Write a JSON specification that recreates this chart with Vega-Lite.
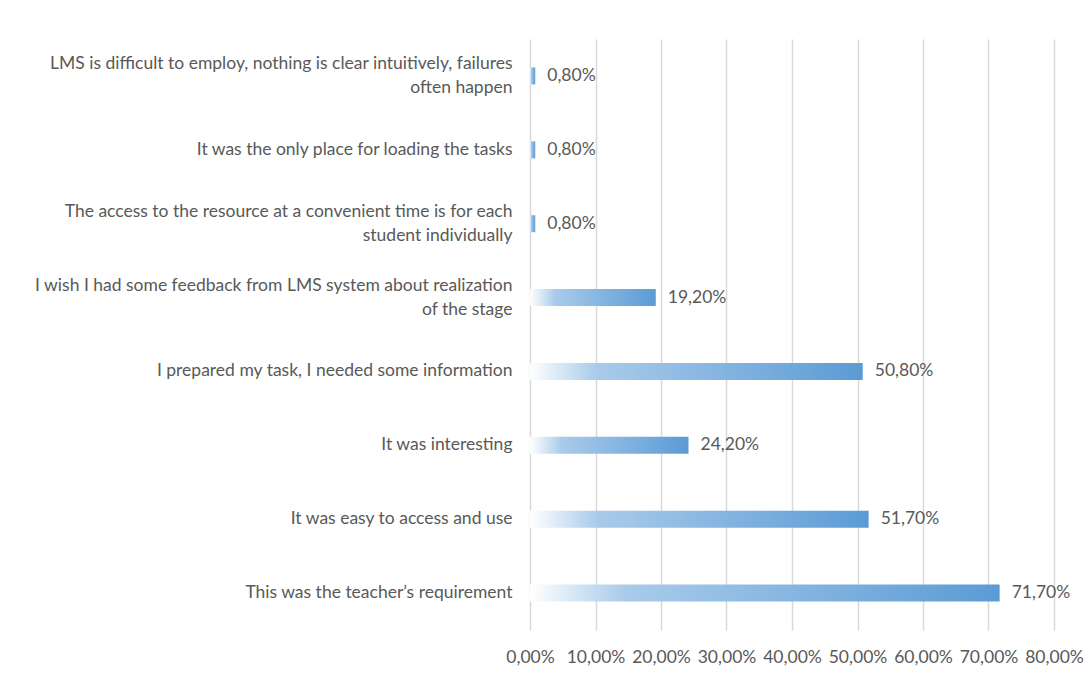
{
  "$schema": "https://vega.github.io/schema/vega-lite/v6.json",
  "width": 524,
  "height": 591,
  "autosize": "none",
  "padding": {"left": 530, "top": 39, "right": 37, "bottom": 43},
  "background": "white",
  "config": {
    "locale": {"number": {"decimal": ",", "thousands": ".", "grouping": [3], "currency": ["", " €"], "percent": "%"}},
    "view": {"stroke": null},
    "font": "Lato"
  },
  "data": {
    "values": [
      {"label": "LMS is difficult to employ, nothing is clear intuitively, failures|often happen", "value": 0.008},
      {"label": "It was the only place for loading the tasks ", "value": 0.008},
      {"label": "The access to the resource at a convenient time is for each|student individually", "value": 0.008},
      {"label": "I wish I had some feedback from LMS system about realization|of the stage", "value": 0.192},
      {"label": "I prepared my task, I needed some information", "value": 0.508},
      {"label": "It was interesting ", "value": 0.242},
      {"label": "It was easy to access and use", "value": 0.517},
      {"label": "This was the teacher’s requirement", "value": 0.717}
    ]
  },
  "encoding": {
    "y": {
      "field": "label",
      "type": "nominal",
      "sort": null,
      "scale": {"paddingInner": 0.77, "paddingOuter": 0.385},
      "axis": {
        "title": null,
        "ticks": false,
        "domain": false,
        "labelPadding": 18,
        "labelLimit": 520,
        "labelFontSize": 17.5,
        "labelColor": "#595959",
        "labelLineHeight": 24,
        "labelOffset": {"condition": {"test": "indexof(datum.value, '|') >= 0", "value": -12}, "value": 0},
        "labelExpr": "split(datum.label, '|')"
      }
    },
    "x": {
      "field": "value",
      "type": "quantitative",
      "scale": {"domain": [0, 0.8], "nice": false},
      "axis": {
        "title": null,
        "format": ".2%",
        "values": [0, 0.1, 0.2, 0.3, 0.4, 0.5, 0.6, 0.7, 0.8],
        "grid": true,
        "gridColor": "#D9D9D9",
        "gridWidth": 1.5,
        "ticks": false,
        "domain": false,
        "labelOverlap": false,
        "labelFlush": false,
        "labelPadding": 18,
        "labelFontSize": 17.5,
        "labelColor": "#595959"
      }
    }
  },
  "layer": [
    {
      "mark": {
        "type": "bar",
        "color": {
          "gradient": "linear",
          "x1": 0, "y1": 0, "x2": 1, "y2": 0,
          "stops": [
            {"offset": 0, "color": "#ffffff"},
            {"offset": 0.2, "color": "#a9cbea"},
            {"offset": 1, "color": "#5b9bd5"}
          ]
        }
      }
    },
    {
      "mark": {"type": "text", "align": "left", "baseline": "middle", "dx": 12, "fontSize": 17.5, "color": "#595959"},
      "encoding": {"text": {"field": "value", "type": "quantitative", "format": ".2%"}}
    }
  ]
}
